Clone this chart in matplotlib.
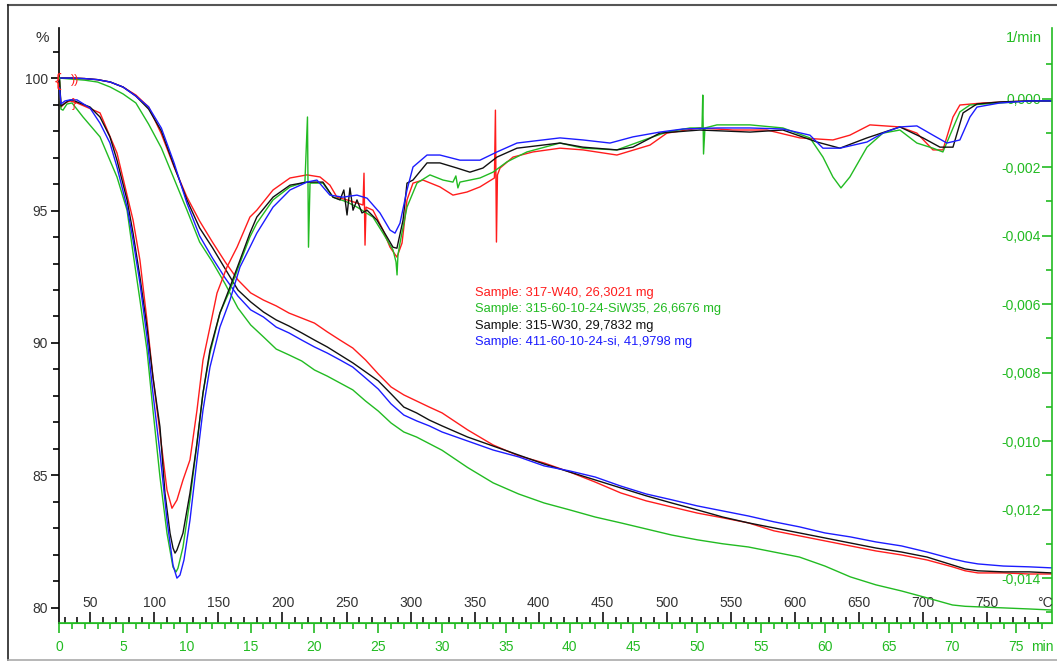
import matplotlib
matplotlib.use("Agg")
import matplotlib.pyplot as plt
from matplotlib.ticker import FixedLocator, MultipleLocator, FuncFormatter
from matplotlib.lines import Line2D

plt.rcParams['font.family'] = ['Liberation Sans', 'DejaVu Sans']

# heating program: temperature (degC) = T0 + rate * time (min)
T0 = 25.8
RATE = 9.96

# TGA curves, mass in % on a common time grid (min)
tga_time = [0, 1, 2, 3, 4, 5, 6, 7, 8, 9, 10, 11, 12, 13, 14, 15, 16, 17, 18, 19, 20,
            21, 22, 23, 24, 25, 26, 27, 28, 29, 30, 32, 34, 36, 38, 40, 42, 44, 46, 48,
            50, 52, 54, 56, 58, 60, 62, 64, 66, 68, 70, 71, 72, 74, 76, 77.8]
tga_red = [100, 100, 99.98, 99.94, 99.85, 99.66, 99.36, 98.91, 97.89, 96.64, 95.51,
           94.60, 93.81, 93.06, 92.38, 91.89, 91.62, 91.40, 91.13, 90.94, 90.75,
           90.42, 90.11, 89.81, 89.36, 88.83, 88.34, 88.04, 87.81, 87.58, 87.36,
           86.72, 86.15, 85.74, 85.47, 85.13, 84.75, 84.34, 84.04, 83.81, 83.58,
           83.40, 83.21, 82.91, 82.72, 82.53, 82.34, 82.15, 82.00, 81.81, 81.55,
           81.40, 81.32, 81.32, 81.28, 81.28]
tga_green = [100, 99.96, 99.92, 99.85, 99.66, 99.40, 99.06, 98.26, 97.36, 96.19, 95.02,
             93.81, 93.06, 92.23, 91.32, 90.68, 90.23, 89.77, 89.55, 89.32, 88.98,
             88.75, 88.49, 88.23, 87.81, 87.43, 86.98, 86.64, 86.45, 86.20, 85.95,
             85.30, 84.72, 84.30, 83.96, 83.70, 83.43, 83.21, 82.98, 82.75, 82.57,
             82.42, 82.30, 82.11, 81.92, 81.58, 81.17, 80.87, 80.64, 80.38, 80.11,
             80.06, 80.04, 80.00, 79.96, 79.92]
tga_black = [100, 100, 99.98, 99.94, 99.85, 99.66, 99.32, 98.83, 98.0, 96.68, 95.40,
             94.34, 93.60, 92.80, 92.0, 91.55, 91.17, 90.87, 90.64, 90.38, 90.11,
             89.85, 89.55, 89.25, 88.91, 88.57, 88.08, 87.58, 87.36, 87.09, 86.87,
             86.45, 86.11, 85.77, 85.43, 85.13, 84.83, 84.53, 84.23, 83.96, 83.70,
             83.43, 83.21, 83.02, 82.83, 82.64, 82.45, 82.26, 82.11, 81.92, 81.62,
             81.47, 81.40, 81.36, 81.36, 81.32]
tga_blue = [100, 100, 99.98, 99.94, 99.85, 99.66, 99.32, 98.91, 98.11, 96.79, 95.28,
            94.04, 93.21, 92.45, 91.77, 91.25, 90.98, 90.60, 90.38, 90.11, 89.85,
            89.62, 89.36, 89.09, 88.68, 88.26, 87.70, 87.28, 87.06, 86.87, 86.64,
            86.30, 85.96, 85.70, 85.36, 85.17, 84.94, 84.60, 84.30, 84.08, 83.85,
            83.66, 83.47, 83.25, 83.06, 82.83, 82.68, 82.49, 82.34, 82.11, 81.85,
            81.74, 81.66, 81.58, 81.55, 81.51]

# DTG curves, in 1e-3 1/min
dtg_red_t = [0.02, 0.13, 0.45, 0.84, 1.39, 3.19, 4.52, 5.78, 6.32, 6.87, 7.34, 7.89, 8.44,
             8.83, 9.22, 9.69, 10.24, 10.79, 11.26, 11.81, 12.36, 13.14, 13.93, 14.94,
             15.48, 16.75, 18.08, 19.41, 20.43, 21.21, 21.76, 22.55, 23.33, 23.80, 23.88,
             23.96, 24.04, 24.58, 25.37, 25.92, 26.46, 26.86, 27.25, 27.72, 28.5, 29.83,
             30.85, 31.95, 32.97, 34.1, 34.18, 34.26, 34.34, 34.54, 35.56, 37.12, 39.24,
             41.04, 43.7, 46.29, 47.62, 50.2, 52.79, 55.46, 58.04, 60.63, 61.96, 63.53,
             65.88, 67.21, 68.47, 69.25, 70.04, 70.58, 72.38, 76.07, 77.8]
dtg_red = [0.48, -0.25, -0.13, -0.07, -0.13, -0.42, -1.59, -3.55, -4.72, -6.47, -8.13,
           -9.77, -11.43, -11.96, -11.72, -11.14, -10.55, -9.10, -7.64, -6.67, -5.68,
           -4.92, -4.34, -3.46, -3.26, -2.67, -2.32, -2.23, -2.29, -2.53, -2.88, -2.96,
           -3.05, -3.11, -2.18, -4.28, -3.17, -3.26, -3.84, -4.34, -4.63, -4.22, -2.96,
           -2.47, -2.38, -2.58, -2.82, -2.73, -2.58, -2.32, -0.34, -4.19, -2.23, -2.03,
           -1.71, -1.56, -1.45, -1.50, -1.65, -1.36, -1.01, -0.86, -0.92, -0.92, -1.15,
           -1.21, -1.07, -0.77, -0.83, -1.01, -1.50, -1.50, -0.54, -0.19, -0.13, -0.07,
           -0.07]

dtg_green_t = [0.02, 0.13, 0.29, 0.6, 1.0, 1.86, 3.19, 4.52, 5.31, 5.78, 6.32, 6.87, 7.34,
               7.89, 8.44, 8.91, 9.15, 9.30, 9.69, 10.24, 10.79, 11.26, 11.81, 12.59, 13.38,
               14.16, 14.94, 15.48, 16.75, 18.08, 19.25, 19.45, 19.53, 19.65, 20.66, 21.45,
               22.55, 23.33, 24.58, 25.37, 26.15, 26.39, 26.47, 26.54, 26.7, 27.25, 28.03,
               29.05, 30.07, 30.85, 31.08, 31.24, 31.4, 32.97, 33.99, 35.08, 36.65, 39.24,
               41.04, 43.7, 46.29, 47.62, 49.43, 50.37, 50.43, 50.49, 50.6, 51.54, 54.13,
               56.71, 58.83, 59.85, 60.63, 61.26, 61.96, 63.3, 64.55, 65.88, 67.21, 68.47,
               69.25, 70.58, 71.37, 73.72, 76.07, 77.8]
dtg_green = [0.6, -0.31, -0.34, -0.16, -0.13, -0.54, -1.12, -2.29, -3.26, -4.51, -5.88,
             -7.34, -9.09, -11.05, -12.69, -13.68, -13.82, -13.71, -13.10, -11.72, -10.06,
             -8.60, -7.43, -6.26, -5.59, -4.80, -4.04, -3.64, -2.96, -2.58, -2.44, -0.54,
             -4.34, -2.47, -2.47, -2.88, -3.02, -3.17, -3.46, -3.93, -4.42, -4.77, -5.15,
             -4.57, -4.22, -3.17, -2.47, -2.23, -2.38, -2.44, -2.26, -2.61, -2.44, -2.32,
             -2.15, -1.85, -1.56, -1.30, -1.45, -1.50, -1.15, -0.98, -0.86, -0.86, 0.10,
             -1.62, -0.86, -0.77, -0.77, -0.86, -1.15, -1.71, -2.29, -2.61, -2.29, -1.42,
             -1.01, -0.92, -1.30, -1.45, -1.56, -0.39, -0.19, -0.13, -0.07, -0.07]

dtg_black_t = [0.02, 0.13, 0.37, 0.68, 1.0, 1.39, 2.41, 3.19, 3.97, 4.52, 5.31, 5.78, 6.32,
               6.87, 7.34, 7.89, 8.28, 8.68, 8.91, 9.07, 9.22, 9.69, 10.24, 10.79, 11.26,
               11.81, 12.59, 13.38, 14.16, 14.94, 15.48, 16.75, 18.08, 19.41, 20.66, 21.45,
               22.0, 22.3, 22.55, 22.78, 23.02, 23.33, 23.72, 24.12, 24.9, 25.68, 26.15,
               26.46, 26.94, 27.25, 27.72, 28.82, 29.83, 31.17, 32.18, 33.2, 34.3, 35.87,
               39.24, 41.04, 43.7, 44.96, 47.07, 50.2, 54.13, 56.71, 59.38, 61.18, 63.3,
               65.88, 67.69, 69.02, 70.04, 70.83, 71.92, 73.72, 76.07, 77.8]
dtg_black = [0.54, -0.22, -0.16, -0.07, -0.04, -0.10, -0.25, -0.54, -1.12, -1.80, -2.96,
             -3.93, -5.21, -6.67, -8.13, -9.59, -11.52, -12.69, -13.12, -13.27, -13.18,
             -12.69, -11.52, -10.06, -8.60, -7.34, -6.26, -5.50, -4.72, -3.93, -3.46,
             -2.88, -2.53, -2.44, -2.44, -2.88, -2.96, -2.67, -3.40, -2.61, -3.26, -2.96,
             -3.34, -3.26, -3.55, -4.04, -4.34, -4.37, -3.55, -2.47, -2.38, -1.88, -1.88,
             -2.03, -2.15, -2.03, -1.71, -1.45, -1.30, -1.42, -1.50, -1.42, -1.01, -0.92,
             -0.98, -0.92, -1.27, -1.45, -1.15, -0.83, -1.15, -1.42, -1.42, -0.42, -0.16,
             -0.10, -0.07, -0.07]

dtg_blue_t = [0.02, 0.13, 0.45, 0.84, 1.39, 2.41, 3.19, 3.97, 4.52, 5.31, 5.78, 6.32, 6.87,
              7.34, 7.89, 8.44, 8.91, 9.22, 9.46, 9.77, 10.24, 10.79, 11.26, 11.81, 12.59,
              13.38, 14.16, 14.94, 15.48, 16.75, 18.08, 19.41, 20.19, 21.21, 22.23, 23.33,
              24.12, 25.13, 25.92, 26.31, 26.7, 27.25, 27.72, 28.82, 29.83, 31.4, 32.97,
              34.3, 35.87, 39.24, 41.04, 43.16, 44.96, 47.07, 48.87, 51.54, 54.13, 56.71,
              58.83, 59.85, 61.18, 63.3, 64.55, 65.88, 67.21, 68.47, 69.56, 70.58, 71.37,
              71.92, 73.72, 76.07, 77.8]
dtg_blue = [0.31, -0.16, -0.07, -0.04, -0.04, -0.28, -0.72, -1.30, -2.0, -3.17, -4.13,
            -5.39, -6.96, -8.60, -10.35, -12.31, -13.62, -14.0, -13.91, -13.47, -12.31,
            -10.55, -9.10, -7.84, -6.67, -5.88, -4.92, -4.34, -3.93, -3.17, -2.67, -2.44,
            -2.38, -2.82, -2.88, -2.82, -2.91, -3.34, -3.84, -3.93, -3.64, -2.67, -2.0,
            -1.65, -1.65, -1.80, -1.80, -1.56, -1.30, -1.15, -1.21, -1.30, -1.12, -0.98,
            -0.89, -0.86, -0.86, -0.89, -1.07, -1.45, -1.45, -1.27, -1.01, -0.83, -0.80,
            -1.07, -1.30, -1.21, -0.54, -0.25, -0.13, -0.07, -0.07]

sample_labels = ["Sample: 317-W40, 26,3021 mg",
                 "Sample: 315-60-10-24-SiW35, 26,6676 mg",
                 "Sample: 315-W30, 29,7832 mg",
                 "Sample: 411-60-10-24-si, 41,9798 mg"]

RED = '#ff1c1c'
GREEN = '#22bb22'
BLACK = '#111111'
BLUE = '#1c1cff'

W, H = 1057, 662
fig = plt.figure(figsize=(W / 100, H / 100), dpi=100)
ax = fig.add_axes([59.3 / W, 1 - 623 / H, (1052 - 59.3) / W, (623 - 28) / H])
ax2 = ax.twinx()

lw = 1.0
ax.plot(tga_time, tga_red, color=RED, lw=lw)
ax.plot(tga_time, tga_green, color=GREEN, lw=lw)
ax.plot(tga_time, tga_black, color=BLACK, lw=lw)
ax.plot(tga_time, tga_blue, color=BLUE, lw=lw)
ax2.plot(dtg_red_t, dtg_red, color=RED, lw=lw)
ax2.plot(dtg_green_t, dtg_green, color=GREEN, lw=lw)
ax2.plot(dtg_black_t, dtg_black, color=BLACK, lw=lw)
ax2.plot(dtg_blue_t, dtg_blue, color=BLUE, lw=lw)

# left axis: mass %
ax.set_xlim(0, 77.8)
ax.set_ylim(79.43, 101.89)
ax.spines['top'].set_visible(False)
ax.spines['right'].set_visible(False)
ax.spines['left'].set_linewidth(1.2)
ax.spines['bottom'].set_color(GREEN)
ax.spines['bottom'].set_linewidth(1.2)
ax.yaxis.set_major_locator(MultipleLocator(5))
ax.yaxis.set_minor_locator(MultipleLocator(1))
ax.tick_params(axis='y', which='major', direction='out', length=6, width=1.2,
               labelsize=10, pad=2, labelcolor='#333333')
ax.tick_params(axis='y', which='minor', direction='out', length=4, width=1.2)

# time axis (bottom)
ax.xaxis.set_major_locator(MultipleLocator(5))
ax.xaxis.set_minor_locator(MultipleLocator(1))
ax.tick_params(axis='x', which='major', direction='out', length=7, width=1.2,
               colors=GREEN, labelsize=10, pad=5)
ax.tick_params(axis='x', which='minor', direction='out', length=4, width=1.2, colors=GREEN)

# right axis: DTG, ticks and labels on the inner side of the spine
ax2.set_ylim(-15.31, 2.058)
for s in ['top', 'bottom', 'right']:
    ax2.spines[s].set_visible(False)
ax2.spines['left'].set_position(('axes', 1.0))
ax2.spines['left'].set_color(GREEN)
ax2.spines['left'].set_linewidth(1.2)
ax2.yaxis.tick_left()
ax2.yaxis.set_major_locator(FixedLocator([-14, -12, -10, -8, -6, -4, -2, 0]))
ax2.yaxis.set_minor_locator(FixedLocator([-15, -13, -11, -9, -7, -5, -3, -1, 1]))
ax2.yaxis.set_major_formatter(FuncFormatter(
    lambda v, p: f"{v / 1000:.3f}".replace('.', ',').replace('-0,000', '0,000')))
ax2.tick_params(axis='y', which='major', direction='out', length=7, width=1.2,
                colors=GREEN, labelsize=10, pad=1)
ax2.tick_params(axis='y', which='minor', direction='out', length=4, width=1.2, colors=GREEN)

# temperature axis drawn inside, above the time axis
secax = ax.secondary_xaxis(0, functions=(lambda t: T0 + RATE * t,
                                         lambda T: (T - T0) / RATE))
secax.set_alignment('top')
secax.spines['top'].set_color(GREEN)
secax.xaxis.set_major_locator(FixedLocator(list(range(50, 751, 50))))
secax.xaxis.set_minor_locator(FixedLocator([v for v in range(30, 791, 10) if v % 50]))
secax.tick_params(axis='x', which='major', direction='out', length=8, width=1.2,
                  colors=BLACK, labelsize=10, pad=1.5, labelcolor='#333333')
secax.tick_params(axis='x', which='minor', direction='out', length=4, width=1.2,
                  colors=BLACK)

# unit labels
fig.text(42 / W, 1 - 38 / H, '%', ha='center', va='center', fontsize=11, color='#333333')
fig.text(1042 / W, 1 - 38 / H, '1/min', ha='right', va='center', fontsize=10.5, color=GREEN)
fig.text(1053 / W, 1 - 603 / H, '°C', ha='right', va='center', fontsize=10, color='#333333')
fig.text(1031 / W, 1 - 647 / H, 'min', ha='left', va='center', fontsize=10, color=GREEN)

# evaluation markers near the start
fig.text(57.5 / W, 1 - 82 / H, '{', ha='center', va='center', fontsize=14, color=RED)
fig.text(75 / W, 1 - 80 / H, '))', ha='center', va='center', fontsize=9, color=RED)
fig.text(74 / W, 1 - 104 / H, '}', ha='center', va='center', fontsize=9, color=RED)

# sample legend
for i, (lab, col) in enumerate(zip(sample_labels, [RED, GREEN, BLACK, BLUE])):
    fig.text(475 / W, 1 - (293 + 16.3 * i) / H, lab, ha='left', va='center',
             fontsize=9.3, color=col)

# frame around the picture
fig.add_artist(Line2D([8 / W, 1], [1 - 5 / H, 1 - 5 / H], transform=fig.transFigure,
                      color='#555555', lw=1.5))
fig.add_artist(Line2D([8 / W, 8 / W], [1 - 5 / H, 1 - 660 / H], transform=fig.transFigure,
                      color='#222222', lw=1.2))
fig.add_artist(Line2D([8 / W, 1], [1 - 660 / H, 1 - 660 / H], transform=fig.transFigure,
                      color='#aaaaaa', lw=1.2))

fig.savefig('out.png', dpi=100)
